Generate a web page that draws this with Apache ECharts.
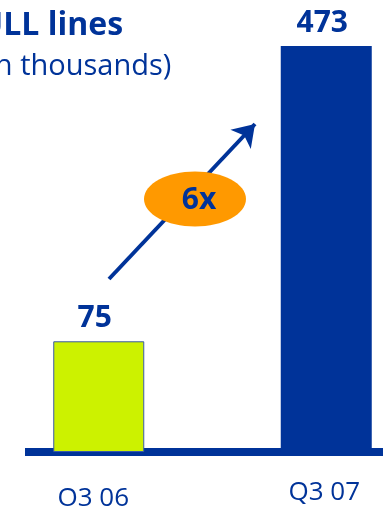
<!DOCTYPE html>
<html>
<head>
<meta charset="utf-8">
<script src="https://cdn.jsdelivr.net/npm/echarts@6/dist/echarts.min.js"></script>
<style>
  html, body { margin: 0; padding: 0; background: #ffffff; }
  #chart { width: 383px; height: 507px; }
</style>
</head>
<body>
<div id="chart"></div>
<script>
// Quarter labels and line counts (thousands)
const categories = ['O3 06', 'Q3 07'];
const lineCounts = [75, 473];
const growthLabel = '6x';
const titleText = 'ULL lines';
const unitText = '(in thousands)';

// Styling
const BLUE = '#003399';
const LIME = '#ccf200';
const ORANGE = '#ff9900';
const FONT = '"Open Sans", "Noto Sans", sans-serif';
const barStyles = [
  { color: LIME, borderColor: '#3a5aa8', borderWidth: 1 },
  { color: BLUE }
];

const chart = echarts.init(document.getElementById('chart'), null, { renderer: 'canvas' });

const option = {
  animation: false,
  backgroundColor: '#ffffff',
  title: {
    text: titleText,
    subtext: unitText,
    left: -21,
    top: 10,
    padding: 0,
    itemGap: 10,
    textStyle: { color: BLUE, fontFamily: FONT, fontWeight: 'bold', fontSize: 32 },
    subtextStyle: { color: BLUE, fontFamily: FONT, fontWeight: 'normal', fontSize: 29 }
  },
  grid: [
    // bars (not-to-scale presentation via log value axis)
    { left: -15, width: 455, top: 46, bottom: 55, outerBoundsMode: 'none', containLabel: false },
    // baseline rule
    { left: 25, right: 0, top: 46, bottom: 55, outerBoundsMode: 'none', containLabel: false }
  ],
  xAxis: [
    {
      gridIndex: 0,
      type: 'category',
      data: categories,
      axisLine: { show: false },
      axisTick: { show: false },
      splitLine: { show: false },
      axisLabel: {
        margin: 28,
        formatter: (v, i) => `{c${i}|${v}}`,
        rich: {
          c0: { color: BLUE, fontFamily: FONT, fontSize: 26, padding: [6, 11, 0, 0] },
          c1: { color: BLUE, fontFamily: FONT, fontSize: 26, padding: [0, 4, 0, 0] }
        }
      }
    },
    {
      gridIndex: 1,
      type: 'category',
      data: categories,
      offset: 4,
      axisLine: { show: true, lineStyle: { color: BLUE, width: 8, cap: 'butt' } },
      axisTick: { show: false },
      axisLabel: { show: false },
      splitLine: { show: false }
    }
  ],
  yAxis: [
    {
      gridIndex: 0,
      type: 'log',
      min: 37.6,
      max: 473,
      startValue: 37.6,
      show: false
    },
    { gridIndex: 1, type: 'value', show: false }
  ],
  series: [
    {
      type: 'bar',
      xAxisIndex: 0,
      yAxisIndex: 0,
      barWidth: 91,
      clip: true,
      data: lineCounts.map((v, i) => ({ value: v, itemStyle: barStyles[i] })),
      label: {
        show: true,
        position: 'top',
        distance: 8,
        offset: [-4, 0],
        color: BLUE,
        fontFamily: FONT,
        fontWeight: 'bold',
        fontSize: 30
      },
      emphasis: { disabled: true },
      markLine: {
        silent: true,
        symbol: ['none', 'arrow'],
        symbolSize: 21,
        label: { show: false },
        lineStyle: { color: BLUE, width: 4, type: 'solid' },
        emphasis: { disabled: true },
        data: [[{ x: 109, y: 279 }, { x: 255, y: 124 }]]
      }
    }
  ],
  graphic: [
    {
      type: 'ellipse',
      z: 100,
      shape: { cx: 195, cy: 199, rx: 51, ry: 27.5 },
      style: { fill: ORANGE }
    },
    {
      type: 'text',
      z: 101,
      x: 199,
      y: 200,
      style: {
        text: growthLabel,
        fill: BLUE,
        font: 'bold 30px ' + FONT,
        textAlign: 'center',
        textVerticalAlign: 'middle',
        align: 'center',
        verticalAlign: 'middle'
      }
    }
  ]
};

chart.setOption(option);
</script>
</body>
</html>
